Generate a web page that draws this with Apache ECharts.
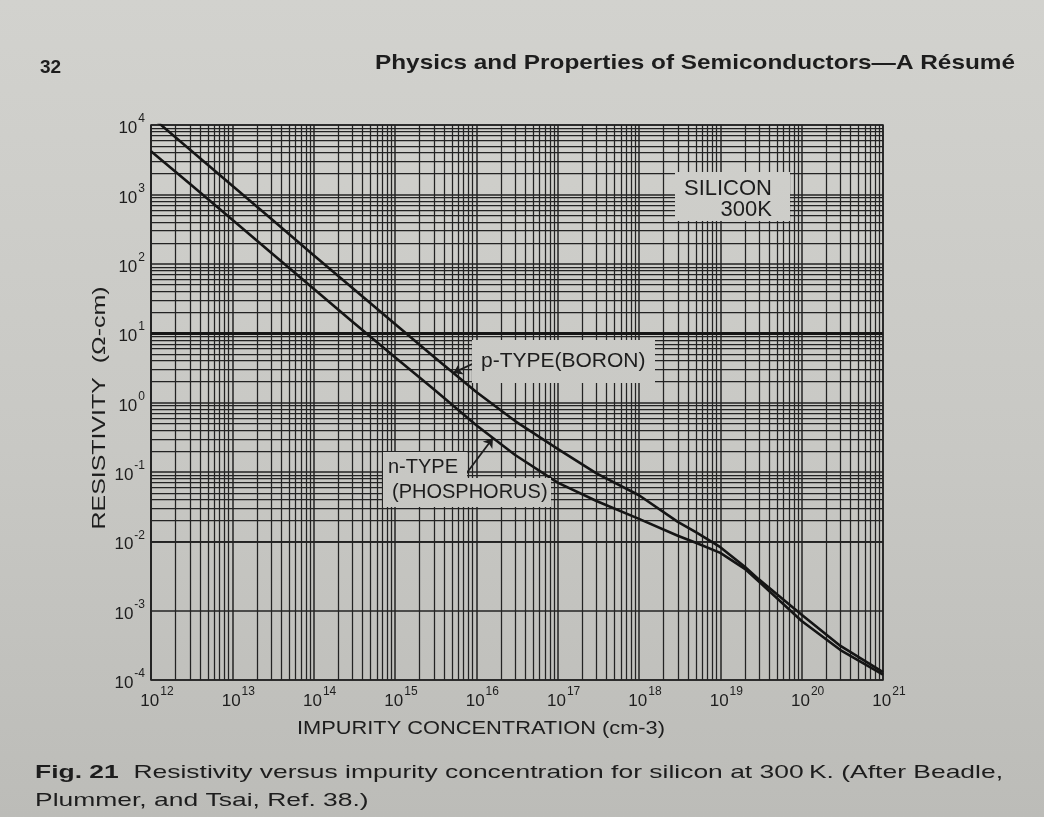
<!DOCTYPE html>
<html>
<head>
<meta charset="utf-8">
<script src="https://cdn.jsdelivr.net/npm/echarts@6/dist/echarts.min.js"></script>
<style>
  html, body { margin: 0; padding: 0; background: #c9c9c5; }
  #chart { width: 1044px; height: 817px; }
</style>
</head>
<body>
<div id="chart"></div>
<script>
// Impurity concentration (cm^-3) at which resistivity is tabulated
const concentration = [1e12, 3e12, 1e13, 3e13, 1e14, 3e14, 1e15, 3e15, 1e16, 3e16,
                       1e17, 3e17, 1e18, 3e18, 5e18, 1e19, 2e19, 3e19, 1e20, 3e20, 1e21];
// Resistivity (ohm-cm), p-type silicon doped with boron
const pTypeBoron = [13300, 4450, 1330, 445, 133, 44.6, 13.5, 4.55, 1.42, 0.54,
                    0.215, 0.095, 0.046, 0.019, 0.0135, 0.0082, 0.0043, 0.0028, 0.00087, 0.00031, 0.00013];
// Resistivity (ohm-cm), n-type silicon doped with phosphorus
const nTypePhosphorus = [4200, 1420, 430, 144, 43.5, 14.6, 4.5, 1.55, 0.47, 0.175,
                         0.07, 0.038, 0.021, 0.012, 0.0095, 0.0068, 0.0040, 0.0026, 0.00071, 0.00027, 0.00012];
// Decade exponents labelled on each axis
const xTickExponents = [12, 13, 14, 15, 16, 17, 18, 19, 20, 21];
const yTickExponents = [-4, -3, -2, -1, 0, 1, 2, 3, 4];

const INK = '#1d1d1d';
const GRIDC = '#232323';
const FONT = '"Liberation Sans", Arial, sans-serif';

const chart = echarts.init(document.getElementById('chart'), null, { renderer: 'canvas' });

// page tone, shared by the background and the label boxes that mask the grid
const paper = () => new echarts.graphic.LinearGradient(0, 0, 0, 817, [
  { offset: 0, color: '#d2d2ce' },
  { offset: 0.55, color: '#c8c8c4' },
  { offset: 1, color: '#bcbcb8' }
], true);

// width of a string in a given canvas font, used to stretch lettering to its span
const measureCtx = document.createElement('canvas').getContext('2d');
function textWidth(text, font) {
  measureCtx.font = font;
  return measureCtx.measureText(text).width;
}

// log-paper minor rulings: 2..9 inside every decade
const minorLines = [];
xTickExponents.slice(0, -1).forEach(e => {
  for (let m = 2; m <= 9; m++) minorLines.push({ xAxis: m * Math.pow(10, e) });
});
yTickExponents.slice(0, -1).forEach(e => {
  for (let m = 2; m <= 9; m++) minorLines.push({ yAxis: m * Math.pow(10, e) });
});
// heavy ruling at 10 ohm-cm
minorLines.push({ yAxis: 10, lineStyle: { width: 3, color: '#161616' } });

function powerLabel(allowed) {
  return function (v) {
    const e = Math.round(Math.log10(v));
    return allowed.includes(e) ? '{b|10}{s|' + e + '}' : '';
  };
}
const labelRich = {
  b: { fontSize: 17, fontFamily: FONT, color: INK, lineHeight: 24, verticalAlign: 'bottom' },
  s: { fontSize: 12, fontFamily: FONT, color: INK, lineHeight: 24, verticalAlign: 'top', padding: [0, 0, 0, 1] }
};

// stretched lettering
const headFont = 'bold 21px ' + FONT;
const headText = 'Physics and Properties of Semiconductors\u2014A R\u00e9sum\u00e9';
const headScale = 640 / textWidth(headText, headFont);

const titleFont = '19px ' + FONT;
const yTitle = 'RESISTIVITY  (\u03a9-cm)';
const yTitleScale = 243 / textWidth(yTitle, titleFont);
const xTitle = 'IMPURITY CONCENTRATION (cm-3)';
const xTitleScale = 368 / textWidth(xTitle, titleFont);

const capBold = 'Fig. 21';
const capRest = '  Resistivity versus impurity concentration for silicon at 300\u2009K. (After Beadle,';
const capScale = 968 / (textWidth(capBold, 'bold 19px ' + FONT) + textWidth(capRest, '19px ' + FONT));

const option = {
  backgroundColor: paper(),
  animation: false,
  grid: {
    left: 151, right: 1044 - 883, top: 125, bottom: 817 - 680,
    show: true, borderColor: GRIDC, borderWidth: 1.6, backgroundColor: 'transparent'
  },
  xAxis: {
    type: 'log', logBase: 10, min: 1e12, max: 1e21, splitNumber: 9,
    axisLine: { show: false }, axisTick: { show: false },
    splitLine: { show: true, lineStyle: { color: GRIDC, width: 1.5 } },
    axisLabel: {
      margin: 6, formatter: powerLabel(xTickExponents), rich: labelRich,
      padding: [0, 0, 0, 12], showMinLabel: true, showMaxLabel: true
    }
  },
  yAxis: {
    type: 'log', logBase: 10, min: 1e-4, max: 1e4, splitNumber: 8,
    axisLine: { show: false }, axisTick: { show: false },
    splitLine: { show: true, lineStyle: { color: GRIDC, width: 1.5 } },
    axisLabel: {
      margin: 6, formatter: powerLabel(yTickExponents), rich: labelRich,
      showMinLabel: true, showMaxLabel: true
    }
  },
  series: [
    {
      name: 'rulings', type: 'line', data: [], silent: true, z: 1,
      markLine: {
        silent: true, animation: false, symbol: ['none', 'none'],
        label: { show: false },
        lineStyle: { color: GRIDC, width: 1.25, type: 'solid' },
        emphasis: { disabled: true },
        data: minorLines
      }
    },
    {
      name: 'p-TYPE (BORON)', type: 'line', z: 5,
      data: concentration.map((c, i) => [c, pTypeBoron[i]]),
      showSymbol: false, smooth: false, clip: true,
      lineStyle: { color: '#151515', width: 2.6, join: 'round' },
      markLine: {
        silent: true, animation: false, symbol: ['none', 'arrow'], symbolSize: 9,
        label: { show: false }, lineStyle: { color: INK, width: 1.8, type: 'solid' },
        data: [[{ coord: [1.14e16, 4.1] }, { coord: [5.2e15, 2.67] }]]
      }
    },
    {
      name: 'n-TYPE (PHOSPHORUS)', type: 'line', z: 5,
      data: concentration.map((c, i) => [c, nTypePhosphorus[i]]),
      showSymbol: false, smooth: false, clip: true,
      lineStyle: { color: '#151515', width: 2.6, join: 'round' },
      markLine: {
        silent: true, animation: false, symbol: ['none', 'arrow'], symbolSize: 9,
        label: { show: false }, lineStyle: { color: INK, width: 1.8, type: 'solid' },
        data: [[{ coord: [7.3e15, 0.09] }, { coord: [1.6e16, 0.307] }]]
      }
    }
  ],
  graphic: [
    // running head
    { type: 'text', x: 40, y: 68, z: 100,
      style: { text: '32', font: 'bold 19px ' + FONT, fill: INK, align: 'left', verticalAlign: 'middle' } },
    { type: 'text', x: 375, y: 63, z: 100, scaleX: headScale,
      style: { text: headText, font: headFont, fill: INK, align: 'left', verticalAlign: 'middle' } },

    // axis titles
    { type: 'text', x: 100, y: 408, z: 100, rotation: Math.PI / 2, scaleX: yTitleScale,
      style: { text: yTitle, font: titleFont, fill: INK, align: 'center', verticalAlign: 'middle' } },
    { type: 'text', x: 481, y: 729, z: 100, scaleX: xTitleScale,
      style: { text: xTitle, font: titleFont, fill: INK, align: 'center', verticalAlign: 'middle' } },

    // SILICON 300K panel
    { type: 'rect', z: 50, shape: { x: 675, y: 172, width: 115, height: 49 }, style: { fill: paper() } },
    { type: 'text', x: 772, y: 189, z: 51,
      style: { text: 'SILICON', font: '22px ' + FONT, fill: INK, align: 'right', verticalAlign: 'middle' } },
    { type: 'text', x: 772, y: 210, z: 51,
      style: { text: '300K', font: '22px ' + FONT, fill: INK, align: 'right', verticalAlign: 'middle' } },

    // p-type label
    { type: 'rect', z: 50, shape: { x: 472, y: 340, width: 183, height: 43 }, style: { fill: paper() } },
    { type: 'text', x: 481, y: 361, z: 51,
      style: { text: 'p-TYPE(BORON)', font: '21px ' + FONT, fill: INK, align: 'left', verticalAlign: 'middle' } },

    // n-type label
    { type: 'rect', z: 50, shape: { x: 383, y: 452, width: 84, height: 28 }, style: { fill: paper() } },
    { type: 'rect', z: 50, shape: { x: 383, y: 478, width: 168, height: 29 }, style: { fill: paper() } },
    { type: 'text', x: 388, y: 467, z: 51,
      style: { text: 'n-TYPE', font: '20px ' + FONT, fill: INK, align: 'left', verticalAlign: 'middle' } },
    { type: 'text', x: 392, y: 492, z: 51,
      style: { text: '(PHOSPHORUS)', font: '20px ' + FONT, fill: INK, align: 'left', verticalAlign: 'middle' } },

    // caption
    { type: 'text', x: 35, y: 773, z: 100, scaleX: capScale,
      style: {
        text: '{b|' + capBold + '}{r|' + capRest + '}',
        align: 'left', verticalAlign: 'middle',
        rich: {
          b: { font: 'bold 19px ' + FONT, fill: INK },
          r: { font: '19px ' + FONT, fill: INK }
        }
      } },
    { type: 'text', x: 35, y: 801, z: 100, scaleX: capScale,
      style: { text: 'Plummer, and Tsai, Ref. 38.)', font: '19px ' + FONT, fill: INK, align: 'left', verticalAlign: 'middle' } }
  ]
};

chart.setOption(option);
</script>
</body>
</html>
